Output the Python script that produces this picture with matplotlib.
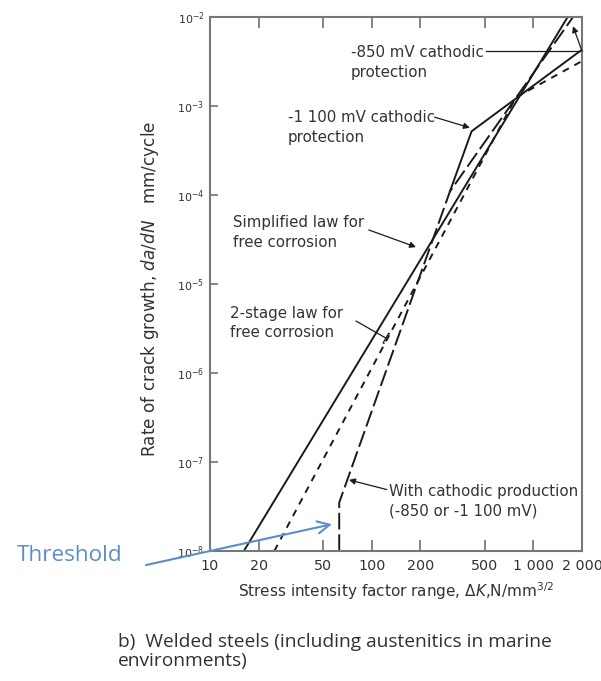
import matplotlib
matplotlib.use("Agg")
import matplotlib.pyplot as plt

# crack growth laws, dK in N/mm^3/2, da/dN in mm/cycle
simplified_dk = [16.2, 1630]
simplified_rate = [1e-8, 1e-2]

two_stage_dk = [25, 780, 2000]
two_stage_rate = [1e-8, 1.25e-3, 3.2e-3]

# with cathodic protection: threshold then -850 mV branch
cathodic_dk = [63, 63, 305, 1760]
cathodic_rate = [1e-8, 3.5e-8, 1.1e-4, 1e-2]

# -1100 mV branch leaves the cathodic curve at 305
cp1100_dk = [305, 415, 2000]
cp1100_rate = [1.1e-4, 5.2e-4, 4.3e-3]

x_ticks = [10, 20, 50, 100, 200, 500, 1000, 2000]
x_labels = ['10', '20', '50', '100', '200', '500', '1 000', '2 000']
y_ticks = [1e-8, 1e-7, 1e-6, 1e-5, 1e-4, 1e-3, 1e-2]
y_labels = [r'$10^{-8}$', r'$10^{-7}$', r'$10^{-6}$', r'$10^{-5}$',
            r'$10^{-4}$', r'$10^{-3}$', r'$10^{-2}$']

plt.rcParams['font.family'] = 'DejaVu Sans'
plt.rcParams['lines.scale_dashes'] = False
ink = '#1a1a1a'
txt = '#333333'
blue = '#5b8ec6'

fig = plt.figure(figsize=(6.01, 6.81), dpi=100)
ax = fig.add_axes([0.3494, 0.1909, 0.619, 0.7841])
ax.set_xscale('log')
ax.set_yscale('log')
ax.set_xlim(10, 2000)
ax.set_ylim(1e-8, 1e-2)

ax.plot(simplified_dk, simplified_rate, color=ink, lw=1.4)
ax.plot(two_stage_dk, two_stage_rate, color=ink, lw=1.4, dashes=(5, 4.5))
ax.plot(cathodic_dk, cathodic_rate, color=ink, lw=1.4, dashes=(12, 3.5))
ax.plot(cp1100_dk, cp1100_rate, color=ink, lw=1.4)

ax.set_xticks(x_ticks)
ax.set_xticklabels(x_labels, fontsize=10.3, color=txt)
ax.set_yticks(y_ticks)
ax.set_yticklabels(y_labels, fontsize=8, color=txt)
ax.minorticks_off()
ax.tick_params(axis='x', direction='in', top=True, length=8, width=1.1,
               color='#666666', pad=6)
ax.tick_params(axis='y', direction='in', length=6, width=1.1,
               color='#666666', pad=4)
for s in ax.spines.values():
    s.set_color('#777777')
    s.set_linewidth(1.5)

ax.set_xlabel(r'Stress intensity factor range, $\Delta K$,N/mm$^{3/2}$',
              fontsize=11, color=txt)
ax.xaxis.set_label_coords(0.50, -0.075)
ax.xaxis.label.set_va('center')
ax.set_ylabel(r'Rate of crack growth, $da/dN$   mm/cycle', fontsize=12.2,
              color=txt)
ax.yaxis.set_label_coords(-0.161, 0.49)
ax.yaxis.label.set_va('center')

# curve labels with leaders
fs = 10.8
arw = dict(arrowstyle='-|>', color=ink, lw=0.9, mutation_scale=9,
           shrinkA=0, shrinkB=0)
ax.text(74.5, 3.08e-3, '-850 mV cathodic\nprotection', fontsize=fs,
        color=txt, va='center', ha='left', linespacing=1.35)
ax.plot([510, 2000], [4.15e-3, 4.15e-3], color=ink, lw=0.9, clip_on=False)
ax.annotate('', xy=(1758, 7.9e-3), xytext=(2000, 4.15e-3),
            arrowprops=arw, annotation_clip=False)

ax.text(30.3, 5.73e-4, '-1 100 mV cathodic\nprotection', fontsize=fs,
        color=txt, va='center', ha='left', linespacing=1.35)
ax.annotate('', xy=(405, 5.7e-4), xytext=(245, 7.5e-4), arrowprops=arw)

ax.text(13.9, 3.8e-5, 'Simplified law for\nfree corrosion', fontsize=fs,
        color=txt, va='center', ha='left', linespacing=1.35)
ax.annotate('', xy=(188, 2.6e-5), xytext=(96, 4.05e-5), arrowprops=arw)

ax.text(13.3, 3.65e-6, '2-stage law for\nfree corrosion', fontsize=fs,
        color=txt, va='center', ha='left', linespacing=1.35)
ax.annotate('', xy=(122.5, 2.47e-6), xytext=(80, 3.84e-6),
            arrowprops=dict(arrowstyle='-[', color=ink, lw=0.9,
                            mutation_scale=4, shrinkA=0, shrinkB=0))

ax.text(128, 3.65e-8, 'With cathodic production\n(-850 or -1 100 mV)',
        fontsize=fs, color=txt, va='center', ha='left', linespacing=1.35)
ax.annotate('', xy=(72.4, 6.3e-8), xytext=(124, 4.9e-8), arrowprops=arw)

# threshold callout outside the axes
ax.annotate('', xy=(56.8, 2.0e-8), xycoords='data',
            xytext=(0.243, 0.1703), textcoords='figure fraction',
            arrowprops=dict(arrowstyle='->', color=blue, lw=1.5,
                            mutation_scale=22, shrinkA=0, shrinkB=0),
            annotation_clip=False)
fig.text(0.028, 0.185, 'Threshold', fontsize=16.2, color=blue,
         family='Open Sans', va='center', ha='left')

fig.text(0.196, 0.0433,
         'b)  Welded steels (including austenitics in marine\nenvironments)',
         fontsize=13.8, color='#303030', family='Open Sans',
         va='center', ha='left', linespacing=1.1)

fig.savefig('out.png', dpi=100)
